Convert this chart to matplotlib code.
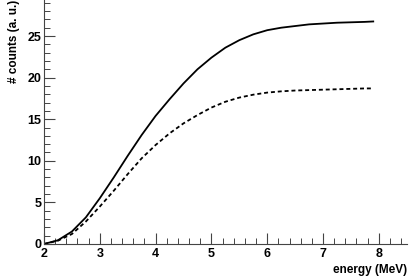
import matplotlib
matplotlib.use('Agg')
import matplotlib.pyplot as plt
from matplotlib.ticker import MultipleLocator

# energy (MeV) sample points
energy = [2.0, 2.25, 2.5, 2.75, 3.0, 3.25, 3.5, 3.75, 4.0, 4.25, 4.5, 4.75, 5.0,
          5.25, 5.5, 5.75, 6.0, 6.25, 6.5, 6.75, 7.0, 7.25, 7.5, 7.75, 7.9]

# solid curve
counts_total = [0.0, 0.45, 1.5, 3.2, 5.5, 8.0, 10.6, 13.1, 15.4, 17.4, 19.3, 21.0, 22.4,
                23.6, 24.5, 25.2, 25.7, 26.0, 26.2, 26.4, 26.5, 26.6, 26.65, 26.7, 26.75]

# dashed curve
counts_part = [0.0, 0.4, 1.2, 2.7, 4.5, 6.4, 8.4, 10.3, 11.9, 13.3, 14.5, 15.5, 16.4,
               17.1, 17.6, 17.95, 18.2, 18.35, 18.45, 18.5, 18.55, 18.6, 18.65, 18.7, 18.7]

plt.rcParams['font.family'] = ['Liberation Sans', 'DejaVu Sans']

fig = plt.figure(figsize=(4.15, 2.77), dpi=100)
ax = fig.add_axes([44 / 415, 33 / 277, 363 / 415, 244 / 277])

ax.plot(energy, counts_total, color='black', lw=1.3, solid_joinstyle='round')
ax.plot(energy, counts_part, color='black', lw=1.3, linestyle=(0, (2.2, 1.6)))

ax.set_xlim(2, 8.505)
ax.set_ylim(0, 29.33)

for side in ['top', 'right']:
    ax.spines[side].set_visible(False)
for side in ['left', 'bottom']:
    ax.spines[side].set_color('#444444')
    ax.spines[side].set_linewidth(0.8)

ax.xaxis.set_major_locator(MultipleLocator(1))
ax.xaxis.set_minor_locator(MultipleLocator(0.2))
ax.yaxis.set_major_locator(MultipleLocator(5))
ax.yaxis.set_minor_locator(MultipleLocator(1))

ax.tick_params(which='major', direction='in', length=8, width=0.8, color='#444444')
ax.tick_params(which='minor', direction='in', length=4, width=0.7, color='#444444')
ax.tick_params(axis='x', which='major', pad=3)
ax.tick_params(axis='y', which='major', pad=2)
for lab in ax.get_xticklabels() + ax.get_yticklabels():
    lab.set_fontsize(9)
    lab.set_fontweight('bold')

fig.text(407 / 415, 1 - 270 / 277, 'energy (MeV)', ha='right', va='center',
         fontsize=8.5, fontweight='bold')
fig.text(14 / 415, 1.0, '# counts (a. u.)', ha='center', va='top', rotation=90,
         fontsize=8.5, fontweight='bold')

fig.savefig('out.png', dpi=100)
